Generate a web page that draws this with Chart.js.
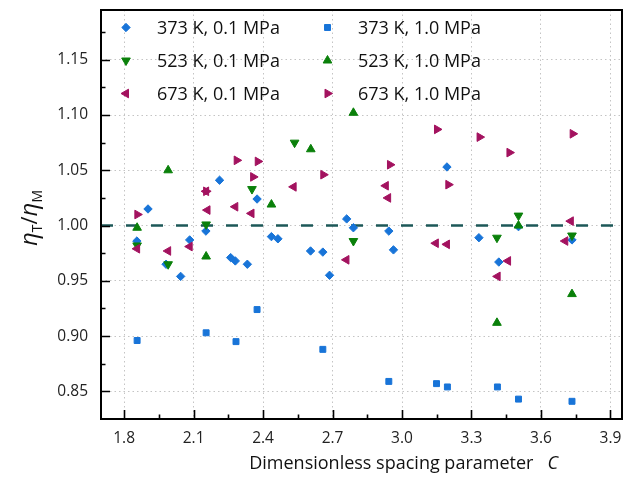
<!DOCTYPE html>
<html><head><meta charset="utf-8">
<style>html,body{margin:0;padding:0;background:#fff;}#wrap{width:637px;height:482px;}</style>
<script src="https://cdn.jsdelivr.net/npm/chart.js@4/dist/chart.umd.min.js"></script>
</head><body><div id="wrap"><canvas id="c" width="637" height="482"></canvas></div>
<script>
// ---- data ----
const xTicks = [1.8, 2.1, 2.4, 2.7, 3.0, 3.3, 3.6, 3.9];
const yTicks = [0.85, 0.90, 0.95, 1.00, 1.05, 1.10, 1.15];
const xRange = [1.7, 3.95];
const yRange = [0.825, 1.195];
const refValue = 1.0;

const seriesNames = ['373 K, 0.1 MPa', '373 K, 1.0 MPa', '523 K, 0.1 MPa', '523 K, 1.0 MPa', '673 K, 0.1 MPa', '673 K, 1.0 MPa'];

const c373_01 = [1.855, 1.903, 1.981, 2.044, 2.083, 2.153, 2.212, 2.26, 2.28, 2.332, 2.374, 2.436, 2.464, 2.605, 2.658, 2.687, 2.761, 2.79, 2.943, 2.963, 3.194, 3.332, 3.418, 3.503, 3.734];
const r373_01 = [0.986, 1.015, 0.965, 0.954, 0.987, 0.995, 1.041, 0.971, 0.968, 0.965, 1.024, 0.990, 0.988, 0.977, 0.976, 0.955, 1.006, 0.998, 0.995, 0.978, 1.053, 0.989, 0.967, 0.999, 0.987];

const c373_10 = [1.856, 2.154, 2.283, 2.374, 2.658, 2.943, 3.149, 3.196, 3.412, 3.503, 3.734];
const r373_10 = [0.896, 0.903, 0.895, 0.924, 0.888, 0.859, 0.857, 0.854, 0.854, 0.843, 0.841];

const c523_01 = [1.856, 1.99, 2.154, 2.352, 2.536, 2.79, 3.41, 3.503, 3.734];
const r523_01 = [0.982, 0.965, 1.001, 1.033, 1.075, 0.986, 0.989, 1.009, 0.991];

const c523_10 = [1.856, 1.99, 2.154, 2.436, 2.606, 2.79, 3.41, 3.503, 3.734];
const r523_10 = [0.998, 1.050, 0.972, 1.019, 1.069, 1.102, 0.912, 1.000, 0.938];

const c673_01 = [1.856, 1.99, 2.083, 2.154, 2.16, 2.28, 2.35, 2.532, 2.76, 2.93, 2.94, 3.146, 3.194, 3.413, 3.458, 3.705, 3.729];
const r673_01 = [0.979, 0.977, 0.981, 1.031, 1.014, 1.017, 1.011, 1.035, 0.969, 1.036, 1.025, 0.984, 0.983, 0.954, 0.968, 0.986, 1.004];

const c673_10 = [1.857, 2.154, 2.286, 2.357, 2.377, 2.66, 2.948, 3.151, 3.2, 3.335, 3.464, 3.737];
const r673_10 = [1.010, 1.031, 1.059, 1.044, 1.058, 1.046, 1.055, 1.087, 1.037, 1.080, 1.066, 1.083];

// ---- styles ----
const BLUE = '#1874d8', GREEN = '#0a800a', MAG = '#a3125f';
const FONT = '"Open Sans", sans-serif';
const markerStyles = [
  {color: BLUE, pointStyle: 'rectRot', radius: 4.2, rotation: 0},
  {color: BLUE, pointStyle: 'rect', radius: 4.2, rotation: 0},
  {color: GREEN, pointStyle: 'triangle', radius: 5, rotation: 180},
  {color: GREEN, pointStyle: 'triangle', radius: 5, rotation: 0},
  {color: MAG, pointStyle: 'triangle', radius: 5, rotation: 270},
  {color: MAG, pointStyle: 'triangle', radius: 5, rotation: 90}
];
const xs = [c373_01, c373_10, c523_01, c523_10, c673_01, c673_10];
const ys = [r373_01, r373_10, r523_01, r523_10, r673_01, r673_10];

const datasets = xs.map((cx, i) => ({
  label: seriesNames[i],
  data: cx.map((v, k) => ({x: v, y: ys[i][k]})),
  pointStyle: markerStyles[i].pointStyle,
  rotation: markerStyles[i].rotation,
  pointRadius: markerStyles[i].radius,
  pointHoverRadius: markerStyles[i].radius,
  backgroundColor: markerStyles[i].color,
  borderColor: markerStyles[i].color,
  borderWidth: 1,
  showLine: false,
  order: 10 - i
}));
datasets.push({
  label: 'ref',
  data: [{x: xRange[0], y: refValue}, {x: xRange[1], y: refValue}],
  showLine: true,
  pointRadius: 0,
  borderColor: '#1d5858',
  borderWidth: 2.6,
  borderDash: [12, 13],
  order: 100
});

function minorOf(ticks, lo, hi) {
  const out = [];
  const step = ticks[1] - ticks[0];
  if (ticks[0] - step / 2 > lo + 1e-9) out.push(ticks[0] - step / 2);
  for (let i = 0; i < ticks.length - 1; i++) out.push((ticks[i] + ticks[i + 1]) / 2);
  if (ticks[ticks.length - 1] + step / 2 < hi - 1e-9) out.push(ticks[ticks.length - 1] + step / 2);
  return out;
}

function measureRich(ctx, pieces) {
  let w = 0;
  pieces.forEach(p => { ctx.font = p.font; p.w = ctx.measureText(p.t).width; w += p.w; });
  return w;
}

const framePlugin = {
  id: 'frame',
  afterDraw(chart) {
    const {ctx, chartArea: a, scales: {x, y}} = chart;
    ctx.save();
    ctx.strokeStyle = '#000';
    ctx.lineWidth = 1.6;
    ctx.beginPath();
    xTicks.forEach(v => { const p = Math.round(x.getPixelForValue(v)) + 0.5; ctx.moveTo(p, a.bottom); ctx.lineTo(p, a.bottom - 9); });
    minorOf(xTicks, xRange[0], xRange[1]).forEach(v => { const p = Math.round(x.getPixelForValue(v)) + 0.5; ctx.moveTo(p, a.bottom); ctx.lineTo(p, a.bottom - 4.5); });
    yTicks.forEach(v => { const p = Math.round(y.getPixelForValue(v)) + 0.5; ctx.moveTo(a.left, p); ctx.lineTo(a.left + 9, p); });
    minorOf(yTicks, yRange[0], yRange[1]).forEach(v => { const p = Math.round(y.getPixelForValue(v)) + 0.5; ctx.moveTo(a.left, p); ctx.lineTo(a.left + 4.5, p); });
    ctx.stroke();
    ctx.lineWidth = 2;
    ctx.strokeRect(a.left, a.top, a.right - a.left, a.bottom - a.top);

    // legend
    const cols = [{mx: 126, tx: 157}, {mx: 327.5, tx: 358}];
    const rows = [27.5, 60.5, 93.5];
    ctx.font = '18px ' + FONT;
    ctx.textBaseline = 'middle';
    ctx.textAlign = 'left';
    seriesNames.forEach((n, i) => {
      const c = cols[i % 2], r = rows[Math.floor(i / 2)];
      const ms = markerStyles[i];
      ctx.fillStyle = ms.color; ctx.strokeStyle = ms.color; ctx.lineWidth = 1;
      Chart.helpers.drawPoint(ctx, {pointStyle: ms.pointStyle, radius: ms.radius, rotation: ms.rotation, borderWidth: 1}, c.mx, r);
      ctx.fillStyle = '#111';
      ctx.font = '18px ' + FONT;
      ctx.fillText(n, c.tx, r + 1);
    });

    // x title
    const xp = [
      {t: 'Dimensionless spacing parameter   ', font: '18px ' + FONT},
      {t: 'C', font: 'italic 18px ' + FONT}
    ];
    const wx = measureRich(ctx, xp);
    let cx = 558 - wx;
    ctx.textBaseline = 'alphabetic';
    ctx.fillStyle = '#111';
    xp.forEach(p => { ctx.font = p.font; ctx.fillText(p.t, cx, 469); cx += p.w; });

    // y title
    ctx.save();
    ctx.translate(37, 218);
    ctx.rotate(-Math.PI / 2);
    const yp = [
      {t: 'η', font: 'italic 24px ' + FONT, dy: 0},
      {t: 'T', font: '14px ' + FONT, dy: 5},
      {t: '/', font: '22px ' + FONT, dy: 0},
      {t: 'η', font: 'italic 24px ' + FONT, dy: 0},
      {t: 'M', font: '14px ' + FONT, dy: 5}
    ];
    const wy = measureRich(ctx, yp);
    let px = -wy / 2;
    yp.forEach(p => { ctx.font = p.font; ctx.fillText(p.t, px, p.dy); px += p.w; });
    ctx.restore();
    ctx.restore();
  }
};

new Chart(document.getElementById('c'), {
  type: 'scatter',
  data: {datasets},
  options: {
    responsive: false,
    animation: false,
    devicePixelRatio: 1,
    layout: {padding: {top: 10, right: 15, left: 0, bottom: 0}},
    plugins: {legend: {display: false}, tooltip: {enabled: false}},
    scales: {
      x: {
        type: 'linear', min: xRange[0], max: xRange[1],
        afterBuildTicks: s => { s.ticks = xTicks.map(v => ({value: v})); },
        afterFit: s => { s.height = 63; s.paddingLeft = 0; s.paddingRight = 0; },
        ticks: {callback: v => Number(v).toFixed(1), font: {family: FONT, size: 15.5}, color: '#222', padding: 10, maxRotation: 0},
        grid: {color: '#c4c4c4', lineWidth: 1, drawTicks: false},
        border: {display: false, dash: [1.5, 3]}
      },
      y: {
        type: 'linear', min: yRange[0], max: yRange[1],
        afterBuildTicks: s => { s.ticks = yTicks.map(v => ({value: v})); },
        afterFit: s => { s.width = 101; s.paddingTop = 0; s.paddingBottom = 0; },
        ticks: {callback: v => Number(v).toFixed(2), font: {family: FONT, size: 15.5}, color: '#222', padding: 13},
        grid: {color: '#c4c4c4', lineWidth: 1, drawTicks: false},
        border: {display: false, dash: [1.5, 3]}
      }
    }
  },
  plugins: [framePlugin]
});
</script></body></html>
